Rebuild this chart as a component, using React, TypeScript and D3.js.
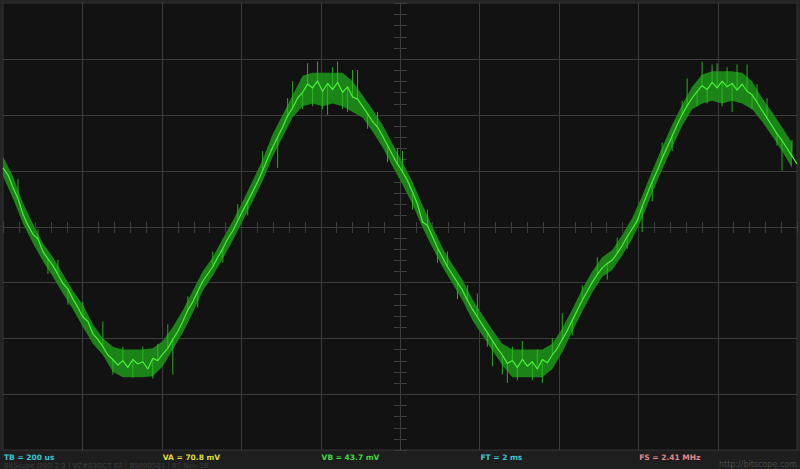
import React from 'react';
import * as d3 from 'd3';

// Trace samples (divisions, 0 = centre), one every ~5px of screen time (160 samples over 10 divisions)
const TRACE = [
  1.05, 0.92, 0.70, 0.50, 0.22, 0.02, -0.14, -0.22, -0.45, -0.58,
  -0.70, -0.86, -1.02, -1.12, -1.30, -1.45, -1.62, -1.70, -1.92, -2.02,
  -2.15, -2.30, -2.38, -2.48, -2.40, -2.52, -2.38, -2.46, -2.42, -2.55,
  -2.36, -2.40, -2.28, -2.18, -2.02, -1.88, -1.70, -1.50, -1.35, -1.16,
  -0.98, -0.85, -0.72, -0.55, -0.40, -0.22, -0.08, 0.10, 0.28, 0.45,
  0.62, 0.80, 1.00, 1.22, 1.42, 1.60, 1.78, 1.98, 2.12, 2.30,
  2.40, 2.55, 2.48, 2.60, 2.42, 2.56, 2.45, 2.58, 2.40, 2.50,
  2.32, 2.28, 2.15, 2.02, 1.88, 1.78, 1.62, 1.45, 1.28, 1.12,
  0.98, 0.82, 0.62, 0.40, 0.08, 0.02, -0.18, -0.38, -0.55, -0.72,
  -0.86, -1.00, -1.14, -1.32, -1.48, -1.62, -1.76, -1.90, -2.04, -2.18,
  -2.30, -2.45, -2.40, -2.52, -2.38, -2.50, -2.42, -2.55, -2.38, -2.44,
  -2.30, -2.18, -2.02, -1.86, -1.68, -1.50, -1.32, -1.16, -1.00, -0.86,
  -0.74, -0.66, -0.60, -0.48, -0.34, -0.18, -0.04, 0.10, 0.36, 0.58,
  0.80, 1.00, 1.22, 1.42, 1.62, 1.82, 2.00, 2.16, 2.30, 2.42,
  2.52, 2.45, 2.58, 2.48, 2.60, 2.50, 2.56, 2.44, 2.55, 2.42,
  2.36, 2.22, 2.08, 1.94, 1.80, 1.66, 1.54, 1.40, 1.26, 1.12,
];

// Noise envelope (divisions), one every ~10px
const BAND_HI = [
  1.25, 0.90, 0.42, 0.05, -0.30, -0.55, -0.85, -1.15, -1.40, -1.75,
  -2.00, -2.15, -2.20, -2.20, -2.20, -2.18, -2.05, -1.80, -1.50, -1.15,
  -0.80, -0.55, -0.22, 0.10, 0.45, 0.82, 1.20, 1.65, 2.00, 2.35,
  2.70, 2.75, 2.75, 2.75, 2.75, 2.60, 2.35, 2.10, 1.82, 1.48,
  1.15, 0.80, 0.38, 0.00, -0.38, -0.68, -0.95, -1.30, -1.58, -1.85,
  -2.10, -2.20, -2.20, -2.20, -2.20, -2.10, -1.82, -1.48, -1.12, -0.80,
  -0.55, -0.42, -0.15, 0.15, 0.55, 1.00, 1.42, 1.82, 2.18, 2.50,
  2.72, 2.78, 2.78, 2.78, 2.75, 2.60, 2.30, 2.05, 1.78, 1.50,
];
const BAND_LO = [
  0.90, 0.50, 0.05, -0.30, -0.62, -0.90, -1.20, -1.48, -1.80, -2.10,
  -2.30, -2.60, -2.70, -2.70, -2.70, -2.68, -2.50, -2.20, -1.90, -1.55,
  -1.15, -0.88, -0.58, -0.25, 0.10, 0.45, 0.82, 1.25, 1.60, 1.95,
  2.15, 2.20, 2.15, 2.20, 2.15, 2.05, 1.95, 1.70, 1.42, 1.08,
  0.75, 0.40, -0.02, -0.38, -0.72, -1.02, -1.32, -1.68, -1.95, -2.22,
  -2.48, -2.70, -2.70, -2.70, -2.70, -2.55, -2.25, -1.88, -1.52, -1.18,
  -0.90, -0.78, -0.52, -0.22, 0.15, 0.60, 1.02, 1.42, 1.80, 2.10,
  2.20, 2.25, 2.20, 2.25, 2.20, 2.10, 1.88, 1.62, 1.35, 1.05,
];

// Glitch spikes: sample index and the value the spike reaches
const SPIKE_AT = [
  3, 7, 9, 11, 13, 16, 20, 22, 24, 26, 28, 30, 31, 33, 34, 37, 39, 42, 44, 47,
  49, 52, 55, 57, 58, 60, 61, 62, 63, 64, 65, 66, 67, 68, 69, 70, 71, 73, 75, 77,
  79, 80, 82, 85, 87, 89, 91, 93, 95, 97, 98, 100, 101, 102, 103, 104, 106, 107, 108, 110,
  112, 114, 116, 119, 121, 123, 125, 128, 130, 132, 134, 136, 137, 139, 140, 141, 142, 143, 144, 145,
  146, 147, 149, 150, 151, 153, 155, 156, 158,
];
const SPIKE_TO = [
  0.85, -0.05, -0.85, -0.60, -1.40, -1.35, -1.70, -2.65, -2.15, -2.70, -2.15, -2.72, -2.10, -1.75, -2.65, -1.25, -1.45, -0.45, -0.65, 0.40,
  0.20, 1.35, 1.05, 2.30, 2.60, 2.10, 2.92, 2.15, 2.95, 2.10, 2.00, 2.85, 2.95, 2.10, 2.05, 2.80, 2.80, 1.75, 2.05, 1.15,
  1.40, 1.35, 0.30, 0.30, -0.65, -0.45, -1.30, -1.05, -1.20, -2.15, -2.50, -2.65, -2.80, -2.15, -2.75, -2.05, -2.75, -2.20, -2.80, -2.00,
  -1.55, -1.95, -1.05, -0.55, -0.95, -0.20, -0.40, -0.10, 0.45, 1.50, 1.35, 2.25, 2.65, 2.15, 2.95, 2.20, 2.90, 2.92, 2.15, 2.85,
  2.05, 2.90, 2.90, 2.10, 2.55, 2.30, 1.45, 1.00, 1.55,
];

const STATUS_LABELS = ['TB = 200 us', 'VA = 70.8 mV', 'VB = 43.7 mV', 'FT = 2 ms', 'FS = 2.41 MHz'];
const STATUS_COLORS = ['#3cc6d6', '#dede3a', '#3fdc3f', '#3cc6d6', '#e08a8a'];
const FOOTER_LEFT = 'BitScope DSO 2.9 | VZ#03GCT E2 | BS000501 | 07-Nov-16';
const FOOTER_RIGHT = 'http://bitscope.com';

const W = 800;
const H = 469;
const PX0 = 3, PX1 = 797, PY0 = 3, PY1 = 450;

export default function App() {
  const xDiv = d3.scaleLinear().domain([0, 10]).range([PX0, PX1]);
  const yDiv = d3.scaleLinear().domain([-4, 4]).range([PY1, PY0]);
  const xs = d3.scaleLinear().domain([0, TRACE.length - 1]).range([PX0, PX1]);

  const line = d3.line<number>().x((_, i) => xs(i)).y((d) => yDiv(d)).curve(d3.curveLinear);
  const area = d3
    .area<number>()
    .x((_, i) => xs(i * 2))
    .y0((_, i) => yDiv(BAND_LO[i]))
    .y1((d) => yDiv(d))
    .curve(d3.curveLinear);

  const vLines = d3.range(1, 10);
  const hLines = d3.range(-3, 4);
  const xMinor = d3.range(0, 50.001, 1).map((k) => k / 5);
  const yMinor = d3.range(-20, 20.001, 1).map((k) => k / 5);
  const cx = xDiv(5);
  const cy = yDiv(0);
  const slot = (PX1 - PX0) / 5;

  return (
    <svg width={W} height={H} style={{ position: 'absolute', left: 0, top: 0, display: 'block' }}
      fontFamily="'DejaVu Sans', sans-serif">
      <rect x={0} y={0} width={W} height={H} fill="#242424" />
      <rect x={PX0} y={PY0} width={PX1 - PX0} height={PY1 - PY0} fill="#121212" stroke="#333" strokeWidth={1} />
      <g stroke="#3d3d3d" strokeWidth={1} shapeRendering="crispEdges">
        {vLines.map((d) => (
          <line key={'v' + d} x1={Math.round(xDiv(d)) + 0.5} x2={Math.round(xDiv(d)) + 0.5} y1={PY0} y2={PY1} />
        ))}
        {hLines.map((d) => (
          <line key={'h' + d} x1={PX0} x2={PX1} y1={Math.round(yDiv(d)) + 0.5} y2={Math.round(yDiv(d)) + 0.5} />
        ))}
        {xMinor.map((d) => (
          <line key={'xm' + d} x1={Math.round(xDiv(d)) + 0.5} x2={Math.round(xDiv(d)) + 0.5} y1={Math.round(cy) - 5} y2={Math.round(cy) + 6} />
        ))}
        {yMinor.map((d) => (
          <line key={'ym' + d} x1={Math.round(cx) - 6} x2={Math.round(cx) + 7} y1={Math.round(yDiv(d)) + 0.5} y2={Math.round(yDiv(d)) + 0.5} />
        ))}
      </g>
      <g>
        <path d={area(BAND_HI) || ''} fill="#1c8a18" opacity={0.95} />
        <g stroke="#2cbd22" strokeWidth={0.9}>
          {SPIKE_AT.map((t, i) => (
            <line key={'s' + i} x1={xs(t)} x2={xs(t)} y1={yDiv(TRACE[t])} y2={yDiv(SPIKE_TO[i])} />
          ))}
        </g>
        <path d={line(TRACE) || ''} fill="none" stroke="#4cf238" strokeWidth={1.2} strokeLinejoin="round" />
      </g>
      <rect x={0} y={PY1 + 1} width={W} height={H - PY1 - 1} fill="#1e1e1e" />
      <g fontSize={7.5} fontWeight="bold">
        {STATUS_LABELS.map((s, i) => (
          <text key={s} x={PX0 + 1 + i * slot} y={460} fill={STATUS_COLORS[i]}>{s}</text>
        ))}
      </g>
      <text x={4} y={468} fontSize={7} fill="#3c3c3c">{FOOTER_LEFT}</text>
      <text x={797} y={467} fontSize={8} fill="#484848" textAnchor="end">{FOOTER_RIGHT}</text>
    </svg>
  );
}
